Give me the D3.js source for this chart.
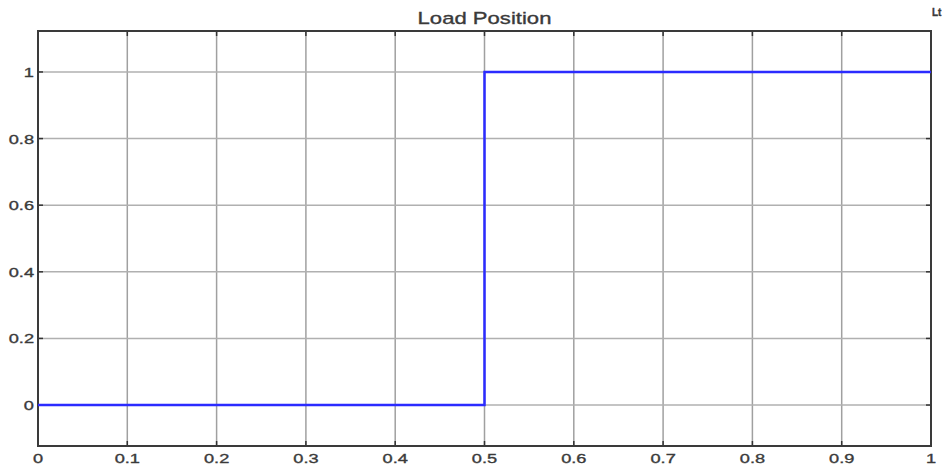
<!DOCTYPE html>
<html>
<head>
<meta charset="utf-8">
<script src="https://cdn.jsdelivr.net/npm/d3@7"></script>
<style>
  body { margin: 0; background: #fff; }
  text { font-family: "Liberation Sans", Arial, sans-serif; fill: #3a3a3a; stroke: #3a3a3a; stroke-width: 0.35; }
</style>
</head>
<body>
<script>
var w = 947;
var h = 466;

// data
var stepT = [0, 0.5, 0.5, 1];
var stepY = [0, 0, 1, 1];
var xTicks = [0, 0.1, 0.2, 0.3, 0.4, 0.5, 0.6, 0.7, 0.8, 0.9, 1];
var yTicks = [0, 0.2, 0.4, 0.6, 0.8, 1];
var title = 'Load Position';

var m = {left: 38, right: 16, top: 31, bottom: 20};

var x = d3.scaleLinear().domain([0, 1]).range([m.left, w - m.right]);
var y = d3.scaleLinear().domain([-0.123, 1.123]).range([h - m.bottom, m.top]);

var svg = d3.select('body').append('svg')
  .attr('width', w)
  .attr('height', h);

// grid
svg.append('g')
  .selectAll('line')
  .data(xTicks)
  .enter().append('line')
  .attr('x1', function(d) { return x(d); })
  .attr('x2', function(d) { return x(d); })
  .attr('y1', y.range()[1])
  .attr('y2', y.range()[0])
  .attr('stroke', '#a0a0a0')
  .attr('stroke-width', 1.5);

svg.append('g')
  .selectAll('line')
  .data(yTicks)
  .enter().append('line')
  .attr('x1', x.range()[0])
  .attr('x2', x.range()[1])
  .attr('y1', function(d) { return y(d); })
  .attr('y2', function(d) { return y(d); })
  .attr('stroke', '#b0b0b0')
  .attr('stroke-width', 1.5);

// inside ticks on all four sides
var tickLen = 5;
var ticks = svg.append('g').attr('stroke', '#333').attr('stroke-width', 1.5);
xTicks.forEach(function(d) {
  ticks.append('line').attr('x1', x(d)).attr('x2', x(d))
    .attr('y1', y.range()[0]).attr('y2', y.range()[0] - tickLen);
  ticks.append('line').attr('x1', x(d)).attr('x2', x(d))
    .attr('y1', y.range()[1]).attr('y2', y.range()[1] + tickLen);
});
yTicks.forEach(function(d) {
  ticks.append('line').attr('y1', y(d)).attr('y2', y(d))
    .attr('x1', x.range()[0]).attr('x2', x.range()[0] + tickLen);
  ticks.append('line').attr('y1', y(d)).attr('y2', y(d))
    .attr('x1', x.range()[1]).attr('x2', x.range()[1] - tickLen);
});

// frame
svg.append('rect')
  .attr('x', x.range()[0])
  .attr('y', y.range()[1])
  .attr('width', x.range()[1] - x.range()[0])
  .attr('height', y.range()[0] - y.range()[1])
  .attr('fill', 'none')
  .attr('stroke', '#3a3a3a')
  .attr('stroke-width', 2);

// the step line
var line = d3.line()
  .x(function(d, i) { return x(stepT[i]); })
  .y(function(d, i) { return y(stepY[i]); });

svg.append('path')
  .datum(stepT)
  .attr('d', line)
  .attr('fill', 'none')
  .attr('stroke', '#2b2bff')
  .attr('stroke-width', 2.5);

// tick labels (stretched a bit horizontally, like the picture)
var sx = 1.35;
svg.append('g')
  .selectAll('text')
  .data(xTicks)
  .enter().append('text')
  .attr('transform', function(d) { return 'translate(' + x(d) + ',' + (h - 3) + ') scale(' + sx + ',1)'; })
  .attr('text-anchor', 'middle')
  .attr('font-size', 13.5)
  .text(function(d) { return d3.format('')(d); });

svg.append('g')
  .selectAll('text')
  .data(yTicks)
  .enter().append('text')
  .attr('transform', function(d) { return 'translate(' + (m.left - 4) + ',' + (y(d) + 5) + ') scale(' + sx + ',1)'; })
  .attr('text-anchor', 'end')
  .attr('font-size', 13.5)
  .text(function(d) { return d3.format('')(d); });

// title
svg.append('text')
  .attr('transform', 'translate(' + ((x.range()[0] + x.range()[1]) / 2) + ',24) scale(1.3,1)')
  .attr('text-anchor', 'middle')
  .attr('font-size', 17)
  .text(title);

// little corner mark
svg.append('text')
  .attr('x', 932)
  .attr('y', 16)
  .attr('font-size', 10)
  .attr('font-weight', 'bold')
  .text('Lt');
</script>
</body>
</html>
